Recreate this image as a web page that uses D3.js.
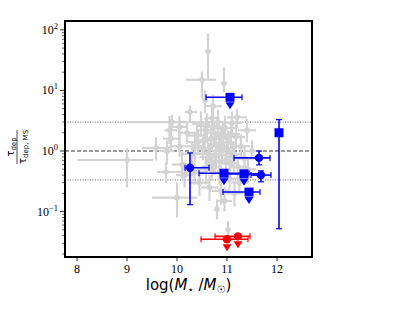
<!DOCTYPE html>
<html>
<head>
<meta charset="utf-8">
<script src="https://cdn.jsdelivr.net/npm/d3@7"></script>
<style>
  body { margin: 0; background: #fff; }
  svg { display: block; }
</style>
</head>
<body>
<div id="chart"></div>
<script>
// grey comparison sample: log stellar mass (with x range) and tau ratio (with y range)
const greyM    = [9.00, 9.58, 9.78, 9.90, 10.00, 10.62, 10.50, 10.94, 10.56, 11.02, 10.80, 9.85, 9.88, 10.05, 10.10, 10.26, 10.48, 10.40, 10.52, 10.58, 10.62, 10.68, 10.70, 10.75, 10.78, 10.82, 10.85, 10.90, 10.92, 10.98, 11.02, 11.05, 11.10, 11.12, 11.18, 11.22, 11.28, 11.20, 11.35, 11.42, 10.30, 10.35, 10.45, 10.65, 10.88, 11.15, 10.95, 10.20, 10.15, 11.40, 11.25, 11.50, 10.72, 9.80, 10.05,
                  10.55, 10.66, 10.74, 10.84, 10.96, 11.06, 10.42, 10.60, 10.78, 10.88, 11.00, 11.14, 10.36, 10.70, 10.82, 10.58, 11.08];
const greyMlo  = [8.00, 9.30, 9.60, 9.00, 9.50, 10.62, 10.18, 10.94, 10.56, 11.02, 10.80, 9.75, 9.72, 9.85, 9.90, 10.16, 10.30, 10.22, 10.30, 10.40, 10.45, 10.50, 10.55, 10.55, 10.60, 10.62, 10.68, 10.70, 10.75, 10.80, 10.85, 10.90, 10.90, 10.95, 11.00, 11.05, 11.10, 11.00, 11.20, 11.25, 10.10, 10.15, 10.25, 10.48, 10.70, 10.98, 10.80, 10.02, 9.98, 11.22, 11.08, 11.35, 10.55, 9.65, 9.88,
                  10.35, 10.45, 10.55, 10.65, 10.75, 10.88, 10.22, 10.40, 10.58, 10.70, 10.80, 10.95, 10.18, 10.50, 10.62, 10.40, 10.90];
const greyMhi  = [9.52, 9.90, 10.10, 10.55, 10.40, 10.62, 10.78, 10.94, 10.56, 11.02, 10.80, 10.00, 10.05, 10.25, 10.30, 10.40, 10.66, 10.58, 10.72, 10.76, 10.80, 10.86, 10.85, 10.95, 10.96, 11.00, 11.02, 11.10, 11.10, 11.16, 11.20, 11.22, 11.30, 11.30, 11.36, 11.40, 11.46, 11.40, 11.50, 11.58, 10.50, 10.55, 10.65, 10.82, 11.06, 11.32, 11.10, 10.38, 10.32, 11.58, 11.42, 11.62, 10.90, 9.95, 10.22,
                  10.75, 10.86, 10.92, 11.02, 11.16, 11.24, 10.62, 10.80, 10.98, 11.06, 11.20, 11.32, 10.54, 10.90, 11.00, 10.76, 11.26];
const greyR    = [0.71, 1.12, 0.45, 3.0, 0.17, 44, 15, 13, 6.9, 0.050, 0.11, 2.2, 1.6, 1.2, 0.60, 4.4, 2.8, 1.8, 1.1, 2.2, 0.90, 1.6, 3.5, 0.65, 1.3, 2.5, 0.45, 1.0, 1.9, 0.70, 1.4, 0.35, 2.9, 0.90, 1.7, 0.55, 1.2, 3.6, 0.75, 0.50, 0.90, 0.45, 0.30, 0.25, 0.22, 0.20, 0.15, 2.0, 0.40, 2.2, 0.30, 1.0, 5.5, 1.0, 2.5,
                  1.5, 0.80, 2.0, 1.2, 2.4, 0.62, 1.4, 2.6, 0.85, 1.6, 1.1, 0.80, 1.2, 0.55, 3.0, 0.50, 1.9];
const greyRlo  = [0.25, 0.70, 0.30, 2.2, 0.08, 15, 7.4, 9.3, 4.2, 0.036, 0.075, 1.3, 1.0, 0.8, 0.35, 3.0, 1.8, 1.1, 0.7, 1.4, 0.55, 1.0, 2.2, 0.40, 0.8, 1.6, 0.28, 0.6, 1.2, 0.45, 0.9, 0.20, 1.9, 0.55, 1.1, 0.35, 0.75, 2.4, 0.45, 0.30, 0.55, 0.28, 0.18, 0.15, 0.13, 0.12, 0.10, 1.3, 0.25, 1.4, 0.20, 0.7, 3.6, 0.6, 1.6,
                  0.9, 0.45, 1.2, 0.7, 1.5, 0.38, 0.85, 1.6, 0.5, 0.95, 0.65, 0.45, 0.7, 0.32, 1.9, 0.28, 1.1];
const greyRhi  = [1.12, 1.70, 0.65, 4.0, 0.30, 86, 20.5, 24, 10, 0.070, 0.16, 3.8, 2.6, 1.9, 1.0, 5.6, 4.5, 2.8, 1.7, 3.5, 1.4, 2.6, 5.5, 1.0, 2.1, 4.0, 0.70, 1.6, 3.0, 1.1, 2.2, 0.55, 4.5, 1.4, 2.7, 0.85, 1.9, 5.0, 1.2, 0.80, 1.4, 0.70, 0.50, 0.40, 0.35, 0.32, 0.25, 3.1, 0.65, 3.4, 0.45, 1.5, 8.5, 1.5, 3.8,
                  2.5, 1.3, 3.2, 2.0, 3.8, 1.0, 2.3, 4.2, 1.4, 2.6, 1.8, 1.3, 2.0, 0.9, 4.8, 0.8, 3.0];

// blue sample
const blueM     = [11.06, 12.04, 11.64, 11.68, 10.94, 11.34, 11.44, 10.26];
const blueMlo   = [10.58, 11.98, 11.14, 11.48, 10.44, 10.90, 10.92, 10.16];
const blueMhi   = [11.30, 12.08, 11.86, 11.88, 11.44, 11.70, 11.66, 10.64];
const blueR     = [7.7, 2.0, 0.77, 0.40, 0.43, 0.42, 0.21, 0.53];
const blueRlo   = [null, 0.052, 0.59, 0.31, null, null, null, 0.13];
const blueRhi   = [null, 3.3, 1.0, 0.47, null, null, null, 0.93];
const blueShape = ["square", "square", "circle", "circle", "square", "square", "square", "circle"];
const blueLimit = [true, false, false, false, true, true, true, false];

// red sample (upper limits)
const redM   = [11.00, 11.22];
const redMlo = [10.48, 10.76];
const redMhi = [11.42, 11.46];
const redR   = [0.035, 0.039];

// reference lines
const refLines = [
  { v: 3, dash: "1,1.5", color: "#666" },
  { v: 1, dash: "4,2", color: "#333" },
  { v: 1 / 3, dash: "1,1.5", color: "#666" }
];

const xTicks = [8, 9, 10, 11, 12];
const yTicks = [0.1, 1, 10, 100];
const yTickExp = ["\u22121", "0", "1", "2"];

const W = 395, H = 312;
const m = { left: 65, right: 312, top: 21, bottom: 257 };

const svg = d3.select("#chart").append("svg")
  .attr("width", W).attr("height", H);

const x = d3.scaleLinear().domain([7.76, 12.7]).range([m.left, m.right]);
const y = d3.scaleLog().domain([0.0178, 140]).range([m.bottom, m.top]);

const plot = svg.append("g");
plot.append("clipPath").attr("id", "clip")
  .append("rect")
  .attr("x", m.left).attr("y", m.top)
  .attr("width", m.right - m.left).attr("height", m.bottom - m.top);
const area = plot.append("g").attr("clip-path", "url(#clip)");

// reference lines
refLines.forEach(l => {
  area.append("line")
    .attr("x1", m.left).attr("x2", m.right)
    .attr("y1", y(l.v)).attr("y2", y(l.v))
    .attr("stroke", l.color).attr("stroke-width", 1)
    .attr("stroke-dasharray", l.dash);
});

// grey error bars + markers
const grey = "#d3d3d3";
const gG = area.append("g");
greyM.forEach((d, i) => {
  gG.append("line")
    .attr("x1", x(greyMlo[i])).attr("x2", x(greyMhi[i]))
    .attr("y1", y(greyR[i])).attr("y2", y(greyR[i]))
    .attr("stroke", grey).attr("stroke-width", 2.2);
  gG.append("line")
    .attr("x1", x(d)).attr("x2", x(d))
    .attr("y1", y(greyRlo[i])).attr("y2", y(greyRhi[i]))
    .attr("stroke", grey).attr("stroke-width", 2.2);
});
gG.selectAll("circle")
  .data(greyM)
  .enter().append("circle")
  .attr("cx", d => x(d))
  .attr("cy", (d, i) => y(greyR[i]))
  .attr("r", 2.8)
  .attr("fill", grey);

function hbar(g, x1, x2, yy, color) {
  g.append("line").attr("x1", x1).attr("x2", x2).attr("y1", yy).attr("y2", yy)
    .attr("stroke", color).attr("stroke-width", 1.6);
  [x1, x2].forEach(xx => g.append("line")
    .attr("x1", xx).attr("x2", xx).attr("y1", yy - 3).attr("y2", yy + 3)
    .attr("stroke", color).attr("stroke-width", 1.2));
}
function vbar(g, xx, y1, y2, color) {
  g.append("line").attr("x1", xx).attr("x2", xx).attr("y1", y1).attr("y2", y2)
    .attr("stroke", color).attr("stroke-width", 1.6);
  [y1, y2].forEach(yy => g.append("line")
    .attr("x1", xx - 3).attr("x2", xx + 3).attr("y1", yy).attr("y2", yy)
    .attr("stroke", color).attr("stroke-width", 1.2));
}
function marker(g, shape, cx, cy, color) {
  if (shape === "square") {
    g.append("rect").attr("x", cx - 4.5).attr("y", cy - 4.5)
      .attr("width", 9).attr("height", 9).attr("fill", color);
  } else {
    g.append("circle").attr("cx", cx).attr("cy", cy).attr("r", 4.2).attr("fill", color);
  }
}
function arrow(g, cx, cy, color) {
  const t = cy + 5;
  g.append("path")
    .attr("d", `M${cx - 4.5},${t} L${cx + 4.5},${t} L${cx},${t + 7} Z`)
    .attr("fill", color);
}

// blue
const blue = "#0000ff";
const bG = area.append("g");
blueM.forEach((d, i) => {
  const cx = x(d), cy = y(blueR[i]);
  hbar(bG, x(blueMlo[i]), x(blueMhi[i]), cy, blue);
  if (blueRlo[i] != null) vbar(bG, cx, y(blueRhi[i]), y(blueRlo[i]), blue);
  marker(bG, blueShape[i], cx, cy, blue);
  if (blueLimit[i]) arrow(bG, cx, cy, blue);
});

// red
const red = "#ff0000";
const rG = area.append("g");
redM.forEach((d, i) => {
  const cx = x(d), cy = y(redR[i]);
  hbar(rG, x(redMlo[i]), x(redMhi[i]), cy, red);
  marker(rG, "circle", cx, cy, red);
  arrow(rG, cx, cy, red);
});

// frame
svg.append("rect")
  .attr("x", m.left).attr("y", m.top)
  .attr("width", m.right - m.left).attr("height", m.bottom - m.top)
  .attr("fill", "none").attr("stroke", "#000").attr("stroke-width", 2);

// x ticks
const tickFont = "'Liberation Serif', 'DejaVu Serif', serif";
xTicks.forEach(t => {
  svg.append("line").attr("x1", x(t)).attr("x2", x(t))
    .attr("y1", m.bottom + 1).attr("y2", m.bottom + 4)
    .attr("stroke", "#000").attr("stroke-width", 0.8);
  svg.append("text").attr("x", x(t)).attr("y", m.bottom + 16)
    .attr("text-anchor", "middle").attr("font-family", tickFont)
    .attr("font-size", 12).text(t);
});

// y ticks (major + minor)
const minor = [];
for (let e = -2; e <= 2; e++) for (let k = 2; k <= 9; k++) {
  const v = k * Math.pow(10, e);
  if (v > y.domain()[0] && v < y.domain()[1]) minor.push(v);
}
minor.forEach(v => {
  svg.append("line").attr("x1", m.left - 1).attr("x2", m.left - 3)
    .attr("y1", y(v)).attr("y2", y(v))
    .attr("stroke", "#000").attr("stroke-width", 0.6);
});
yTicks.forEach((t, i) => {
  svg.append("line").attr("x1", m.left - 1).attr("x2", m.left - 5)
    .attr("y1", y(t)).attr("y2", y(t))
    .attr("stroke", "#000").attr("stroke-width", 0.8);
  const tx = svg.append("text").attr("x", m.left - 7).attr("y", y(t) + 4)
    .attr("text-anchor", "end").attr("font-family", tickFont).attr("font-size", 12);
  tx.append("tspan").text("10");
  tx.append("tspan").attr("font-size", 8.5).attr("dy", -5).text(yTickExp[i]);
});

// x label
const xl = svg.append("text")
  .attr("x", (m.left + m.right) / 2).attr("y", 290)
  .attr("text-anchor", "middle")
  .attr("font-family", "'DejaVu Sans', sans-serif").attr("font-size", 15);
xl.append("tspan").text("log(");
xl.append("tspan").attr("font-style", "italic").text("M");
xl.append("tspan").attr("font-size", 10).attr("dy", 3).text("\u22C6");
xl.append("tspan").attr("dy", -3).text(" /");
xl.append("tspan").attr("font-style", "italic").text("M");
xl.append("tspan").attr("font-size", 10).attr("dy", 3).text("\u2609");
xl.append("tspan").attr("dy", -3).text(")");

// y label: fraction tau_dep / tau_dep,MS rotated
const yl = svg.append("g").attr("transform", "translate(17,147) rotate(-90)");
const lf = "'DejaVu Sans', sans-serif";
const num = yl.append("text").attr("x", 0).attr("y", -3)
  .attr("text-anchor", "middle").attr("font-family", lf).attr("font-size", 10);
num.append("tspan").text("\u03C4");
num.append("tspan").attr("font-size", 7).attr("dy", 2).text("dep");
yl.append("line").attr("x1", -17).attr("x2", 17).attr("y1", 0).attr("y2", 0)
  .attr("stroke", "#000").attr("stroke-width", 0.7);
const den = yl.append("text").attr("x", 0).attr("y", 9)
  .attr("text-anchor", "middle").attr("font-family", lf).attr("font-size", 10);
den.append("tspan").text("\u03C4");
den.append("tspan").attr("font-size", 7).attr("dy", 2).text("dep, MS");
</script>
</body>
</html>
